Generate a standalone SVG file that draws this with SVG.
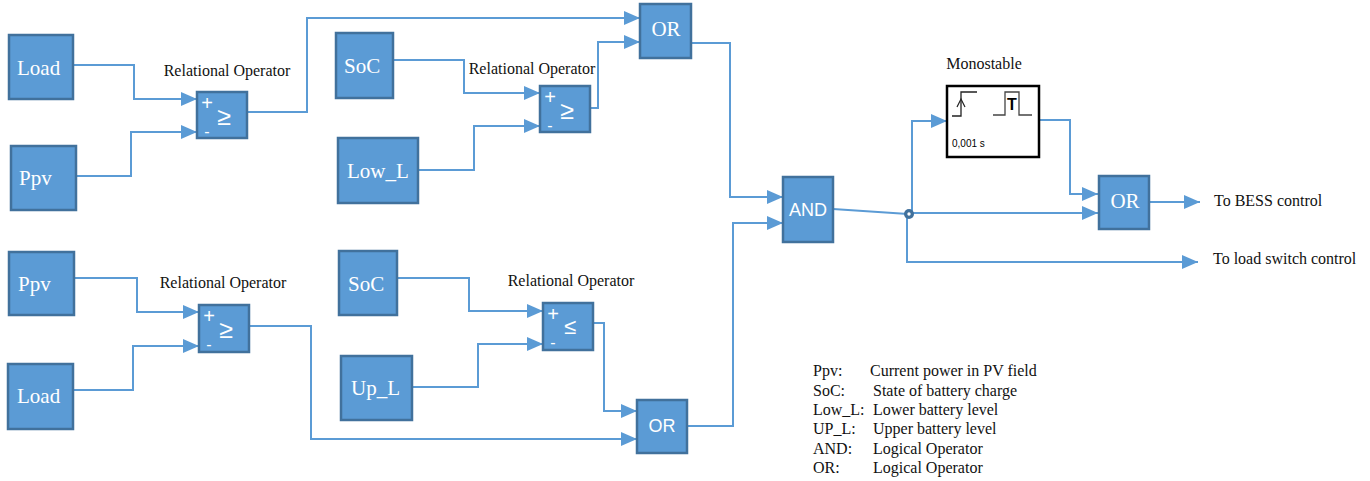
<svg xmlns="http://www.w3.org/2000/svg" width="1370" height="481" viewBox="0 0 1370 481">
  <style>
    .blk { fill: #5B9BD5; stroke: #41719C; stroke-width: 2.5; }
    .lbl { font-family: "Liberation Serif", "Times New Roman", serif; font-size: 21px; fill: #ffffff; }
    .lbls { font-family: "Liberation Sans", Arial, sans-serif; font-size: 18px; fill: #ffffff; }
    .op { font-family: "Liberation Sans", Arial, sans-serif; fill: #ffffff; }
    .cap { font-family: "Liberation Serif", "Times New Roman", serif; font-size: 16px; fill: #111111; }
    .wire { fill: none; stroke: #5B9BD5; stroke-width: 2; }
    .arr { marker-end: url(#ah); }
  </style>
  <defs>
    <marker id="ah" viewBox="0 0 16 14" refX="16" refY="7" markerWidth="16" markerHeight="14" markerUnits="userSpaceOnUse" orient="auto">
      <path d="M0,0 L16,7 L0,14 Z" fill="#5B9BD5"/>
    </marker>
  </defs>

  <!-- connectors -->
  <g id="connectors">
    <!-- upper-left comparator -->
    <polyline class="wire arr" points="73,65 134,65 134,99 197,99"/>
    <polyline class="wire arr" points="76,176 131,176 131,132 197,132"/>
    <polyline class="wire arr" points="247,112 307,112 307,18 640,18"/>
    <!-- upper SoC comparator -->
    <polyline class="wire arr" points="393,60 464,60 464,93 540,93"/>
    <polyline class="wire arr" points="418,170 474,170 474,126 540,126"/>
    <polyline class="wire arr" points="590,108 598,108 598,42 640,42"/>
    <!-- lower-left comparator -->
    <polyline class="wire arr" points="74,278 137,278 137,312 199,312"/>
    <polyline class="wire arr" points="73,390 133,390 133,346 199,346"/>
    <polyline class="wire arr" points="249,326 311,326 311,439 637,439"/>
    <!-- lower SoC comparator -->
    <polyline class="wire arr" points="397,278 469,278 469,311 543,311"/>
    <polyline class="wire arr" points="412,387 478,387 478,344 543,344"/>
    <polyline class="wire arr" points="593,323 604,323 604,411 637,411"/>
    <!-- OR gates into AND -->
    <polyline class="wire arr" points="691,43 730,43 730,197 783,197"/>
    <polyline class="wire arr" points="687,426 733,426 733,223 783,223"/>
    <!-- AND output and branch -->
    <polyline class="wire" points="833,209 908,214"/>
    <polyline class="wire arr" points="912,214 912,121 947,121"/>
    <polyline class="wire arr" points="912,213 1098,213"/>
    <polyline class="wire arr" points="907,214 907,262 1198,262"/>
    <!-- monostable to OR -->
    <polyline class="wire arr" points="1039,120 1070,120 1070,194 1098,194"/>
    <!-- final OR output -->
    <polyline class="wire arr" points="1149,202 1200,202"/>
    <circle cx="909" cy="214" r="5" fill="#41719C"/>
    <circle cx="909" cy="214" r="1.7" fill="#ffffff"/>
  </g>

  <!-- source blocks -->
  <g id="load1"><rect class="blk" x="9" y="35" width="64" height="64"/><text class="lbl" x="17" y="75">Load</text></g>
  <g id="ppv1"><rect class="blk" x="11" y="146" width="65" height="64"/><text class="lbl" x="19" y="185">Ppv</text></g>
  <g id="soc1"><rect class="blk" x="336" y="33" width="57" height="65"/><text class="lbl" x="344" y="73">SoC</text></g>
  <g id="lowl"><rect class="blk" x="338" y="138" width="80" height="65"/><text class="lbl" x="347" y="178">Low_L</text></g>
  <g id="ppv2"><rect class="blk" x="9" y="252" width="65" height="63"/><text class="lbl" x="18" y="291">Ppv</text></g>
  <g id="load2"><rect class="blk" x="8" y="364" width="65" height="65"/><text class="lbl" x="17" y="403">Load</text></g>
  <g id="soc2"><rect class="blk" x="339" y="251" width="58" height="64"/><text class="lbl" x="348" y="291">SoC</text></g>
  <g id="upl"><rect class="blk" x="341" y="356" width="71" height="64"/><text class="lbl" x="351" y="395">Up_L</text></g>

  <!-- relational operators -->
  <g id="rel1">
    <text class="cap" x="227" y="76" text-anchor="middle">Relational Operator</text>
    <rect class="blk" x="197" y="92" width="50" height="46"/>
    <text class="op" x="207" y="110" font-size="20" text-anchor="middle">+</text>
    <text class="op" x="224" y="125" font-size="25" text-anchor="middle">≥</text>
    <text class="op" x="207" y="137" font-size="16" text-anchor="middle">-</text>
  </g>
  <g id="rel2">
    <text class="cap" x="532" y="74" text-anchor="middle">Relational Operator</text>
    <rect class="blk" x="540" y="86" width="50" height="46"/>
    <text class="op" x="550" y="104" font-size="20" text-anchor="middle">+</text>
    <text class="op" x="567" y="119" font-size="25" text-anchor="middle">≥</text>
    <text class="op" x="550" y="131" font-size="16" text-anchor="middle">-</text>
  </g>
  <g id="rel3">
    <text class="cap" x="223" y="288" text-anchor="middle">Relational Operator</text>
    <rect class="blk" x="199" y="305" width="50" height="47"/>
    <text class="op" x="209" y="323" font-size="20" text-anchor="middle">+</text>
    <text class="op" x="226" y="338" font-size="25" text-anchor="middle">≥</text>
    <text class="op" x="209" y="350" font-size="16" text-anchor="middle">-</text>
  </g>
  <g id="rel4">
    <text class="cap" x="571" y="286" text-anchor="middle">Relational Operator</text>
    <rect class="blk" x="543" y="303" width="50" height="47"/>
    <text class="op" x="553" y="321" font-size="20" text-anchor="middle">+</text>
    <text class="op" x="570" y="334" font-size="22" text-anchor="middle">≤</text>
    <text class="op" x="553" y="348" font-size="16" text-anchor="middle">-</text>
  </g>

  <!-- logic gates -->
  <g id="or1"><rect class="blk" x="640" y="4" width="51" height="54"/><text class="lbl" x="666" y="36" text-anchor="middle">OR</text></g>
  <g id="or3"><rect class="blk" x="637" y="400" width="50" height="53"/><text class="lbls" x="662" y="432" text-anchor="middle">OR</text></g>
  <g id="and"><rect class="blk" x="783" y="177" width="50" height="65"/><text class="lbls" x="808" y="216" text-anchor="middle">AND</text></g>
  <g id="or2"><rect class="blk" x="1099" y="176" width="50" height="53"/><text class="lbl" x="1125" y="208" text-anchor="middle">OR</text></g>

  <!-- monostable -->
  <g id="monostable">
    <text class="cap" x="984" y="69" text-anchor="middle" font-size="15">Monostable</text>
    <rect x="947" y="86" width="92" height="71" fill="#ffffff" stroke="#000000" stroke-width="2.5"/>
    <polyline points="952,116 961,116 961,92 977,92" fill="none" stroke="#222222" stroke-width="1.3"/>
    <polyline points="957,107 961,99 965,107" fill="none" stroke="#222222" stroke-width="1.2"/>
    <polyline points="993,115 1005,115 1005,92 1019,92 1019,115 1032,115" fill="none" stroke="#444444" stroke-width="1.3"/>
    <text x="1012" y="110" font-family="Liberation Sans, Arial, sans-serif" font-size="16" font-weight="bold" fill="#000000" text-anchor="middle">T</text>
    <text x="952" y="147" font-family="Liberation Sans, Arial, sans-serif" font-size="10" fill="#000000">0,001 s</text>
  </g>

  <!-- output labels -->
  <g id="out-bess"><text class="cap" x="1214" y="206">To BESS control</text></g>
  <g id="out-load"><text class="cap" x="1213" y="264">To load switch control</text></g>

  <!-- legend -->
  <g id="legend">
    <text class="cap" x="813" y="376">Ppv:</text><text class="cap" x="870" y="376">Current power in PV field</text>
    <text class="cap" x="813" y="396">SoC:</text><text class="cap" x="873" y="396">State of battery charge</text>
    <text class="cap" x="813" y="415">Low_L:</text><text class="cap" x="873" y="415">Lower battery level</text>
    <text class="cap" x="813" y="434">UP_L:</text><text class="cap" x="873" y="434">Upper battery level</text>
    <text class="cap" x="813" y="454">AND:</text><text class="cap" x="873" y="454">Logical Operator</text>
    <text class="cap" x="813" y="473">OR:</text><text class="cap" x="873" y="473">Logical Operator</text>
  </g>
</svg>
